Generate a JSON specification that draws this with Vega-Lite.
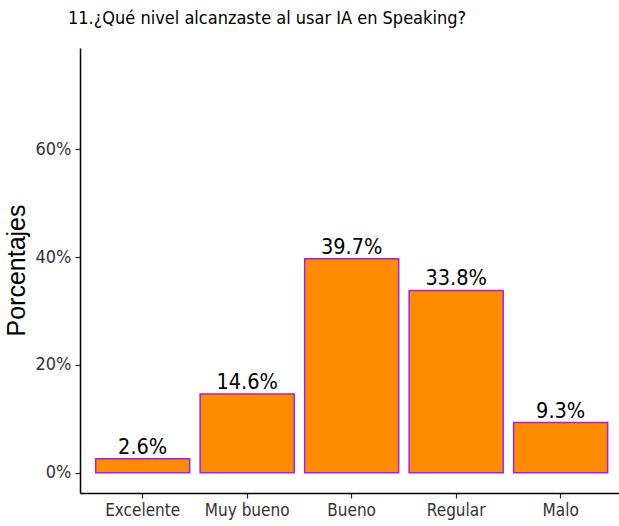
{
  "$schema": "https://vega.github.io/schema/vega-lite/v6.json",
  "autosize": "none",
  "padding": {"left": 80, "top": 48, "right": 0, "bottom": 33},
  "width": 539,
  "height": 445,
  "background": "white",
  "title": {
    "text": "11.¿Qué nivel alcanzaste al usar IA en Speaking?",
    "anchor": "start",
    "frame": "group",
    "dx": -12,
    "offset": 20,
    "font": "DejaVu Sans Condensed",
    "fontSize": 18,
    "fontWeight": "normal",
    "color": "black"
  },
  "data": {
    "values": [
      {"nivel": "Excelente", "pct": 0.026},
      {"nivel": "Muy bueno", "pct": 0.146},
      {"nivel": "Bueno", "pct": 0.397},
      {"nivel": "Regular", "pct": 0.338},
      {"nivel": "Malo", "pct": 0.093}
    ]
  },
  "encoding": {
    "x": {
      "field": "nivel",
      "type": "nominal",
      "sort": ["Excelente", "Muy bueno", "Bueno", "Regular", "Malo"],
      "scale": {"paddingInner": 0.1, "paddingOuter": 0.129, "align": 0.58},
      "axis": {
        "title": null,
        "labelAngle": 0,
        "labelFont": "DejaVu Sans Condensed",
        "labelFontSize": 17,
        "labelColor": "#333333",
        "labelPadding": 4,
        "tickSize": 5,
        "tickColor": "#222222",
        "tickWidth": 1.2,
        "domainColor": "black",
        "domainWidth": 1.5,
        "grid": false
      }
    },
    "y": {
      "field": "pct",
      "type": "quantitative",
      "scale": {"domain": [-0.0375, 0.7875], "nice": false, "zero": false},
      "axis": {
        "title": "Porcentajes",
        "titleFont": "Liberation Sans",
        "titleFontSize": 25,
        "titleFontWeight": "normal",
        "titleColor": "black",
        "titleX": -51,
        "titleY": 222,
        "titleAngle": -90,
        "titleAlign": "center",
        "titleBaseline": "bottom",
        "values": [0, 0.2, 0.4, 0.6],
        "format": ".0%",
        "labelFont": "DejaVu Sans Condensed",
        "labelFontSize": 18,
        "labelColor": "#333333",
        "labelPadding": 4,
        "tickSize": 5,
        "tickColor": "#222222",
        "tickWidth": 1.2,
        "domainColor": "black",
        "domainWidth": 1.5,
        "grid": false
      }
    }
  },
  "layer": [
    {
      "mark": {"type": "bar", "fill": "#FF8C00", "stroke": "#A020F0", "strokeWidth": 1.5},
      "encoding": {"y2": {"datum": 0}}
    },
    {
      "mark": {
        "type": "text",
        "baseline": "alphabetic",
        "align": "center",
        "dy": -5,
        "font": "DejaVu Sans Condensed",
        "fontSize": 21.5,
        "color": "black"
      },
      "encoding": {"text": {"field": "pct", "type": "quantitative", "format": ".1%"}}
    }
  ],
  "config": {"view": {"stroke": null}}
}
